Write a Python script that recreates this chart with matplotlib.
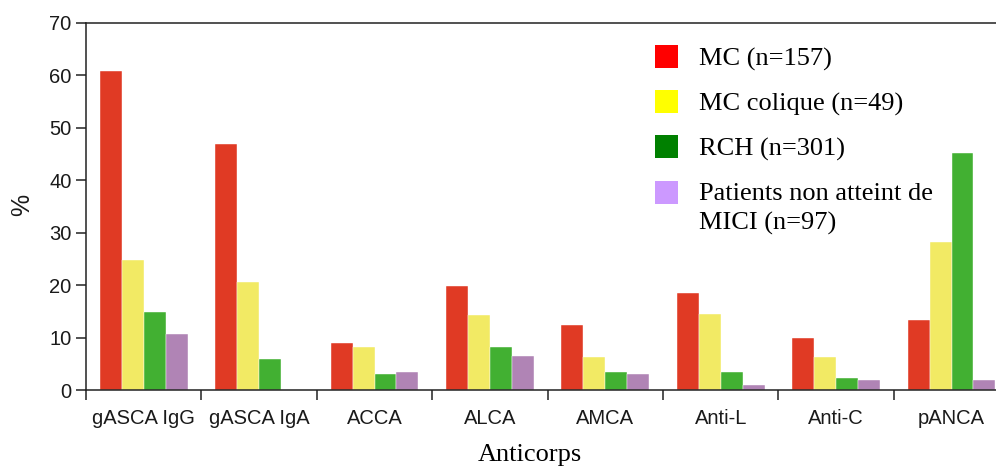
import numpy as np
import matplotlib
matplotlib.use('Agg')
import matplotlib.pyplot as plt
from matplotlib.patches import Rectangle

# Data (% positive per antibody)
categories = ['gASCA IgG', 'gASCA IgA', 'ACCA', 'ALCA', 'AMCA', 'Anti-L', 'Anti-C', 'pANCA']
mc = [60.8, 46.9, 8.9, 19.8, 12.3, 18.4, 10.0, 13.3]
mc_colique = [24.8, 20.5, 8.1, 14.2, 6.2, 14.4, 6.2, 28.3]
rch = [14.8, 5.9, 3.1, 8.1, 3.4, 3.4, 2.2, 45.2]
non_mici = [10.6, 0.0, 3.4, 6.4, 3.1, 0.9, 2.0, 2.0]

series = [mc, mc_colique, rch, non_mici]
bar_colors = ['#E03A24', '#F2EA64', '#42B032', '#B084B5']
legend_colors = ['#FF0000', '#FFFF00', '#008000', '#CC99FF']
legend_labels = ['MC (n=157)', 'MC colique (n=49)', 'RCH (n=301)',
                 'Patients non atteint de\nMICI (n=97)']

W, H = 996, 469
fig = plt.figure(figsize=(W / 100, H / 100), dpi=100)
ax = fig.add_axes([86 / W, (H - 390) / H, (W - 86) / W, 367.3 / H])

x = np.arange(len(categories))
bw = 0.19
off = 0.12
for i, (vals, col) in enumerate(zip(series, bar_colors)):
    ax.bar(x + off + i * bw, vals, width=bw, align='edge', color=col,
           edgecolor='white', linewidth=0.3)

ax.set_ylim(0, 70)
ax.set_xlim(0, (W - 86) / 115.4)
ax.set_yticks(range(0, 71, 10))
ax.set_xticks(range(0, len(categories)))
ax.set_xticklabels([])
ax.set_xticks(x + 0.5, minor=True)
ax.set_xticklabels(categories, minor=True)

sans = ['Liberation Sans', 'DejaVu Sans']
for lab in ax.get_yticklabels() + ax.get_xticklabels(minor=True):
    lab.set_fontfamily(sans)
    lab.set_fontsize(14.5)
    lab.set_color('#1a1a1a')

ax.tick_params(axis='both', which='major', direction='out', length=7.5, width=1.1,
               color='#222222', pad=3)
ax.tick_params(axis='x', which='minor', length=0, pad=14)

for s in ['left', 'top', 'bottom']:
    ax.spines[s].set_linewidth(1.1)
    ax.spines[s].set_color('#222222')
ax.spines['right'].set_visible(False)

fig.text(22 / W, 1 - 205 / H, '%', rotation=90, ha='center', va='center',
         family=sans, fontsize=18, color='#1a1a1a')
fig.text(530 / W, 1 - 455 / H, 'Anticorps', ha='center', va='center',
         family=['Liberation Serif', 'DejaVu Serif'], fontsize=19)

# legend drawn by hand to match the original layout
row_y = [56.7, 101.7, 146.7, 192.3]
for yy, col, lab in zip(row_y, legend_colors, legend_labels):
    fig.patches.append(Rectangle((655 / W, 1 - (yy + 11.5) / H), 23 / W, 23 / H,
                                 transform=fig.transFigure, facecolor=col,
                                 edgecolor='none'))
    fig.text(699 / W, 1 - (yy - 9) / H, lab, ha='left', va='top',
             family=['Liberation Serif', 'DejaVu Serif'], fontsize=19,
             linespacing=1.35)

fig.savefig('out.png', dpi=100)
